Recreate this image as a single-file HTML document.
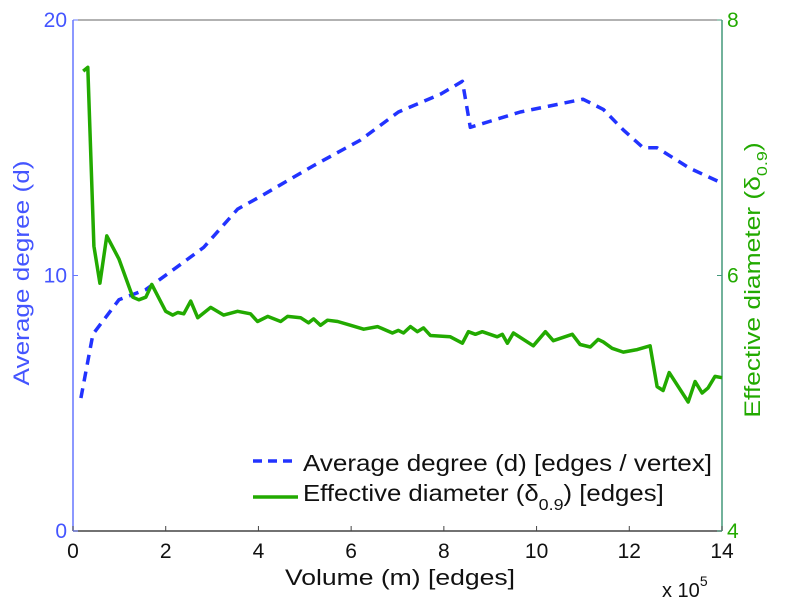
<!DOCTYPE html>
<html><head><meta charset="utf-8">
<style>
body{margin:0;background:#fff;}
svg{display:block;font-family:"Liberation Sans",sans-serif;}
</style></head>
<body>
<svg id="chart" width="785" height="600" viewBox="0 0 785 600">
<rect x="0" y="0" width="785" height="600" fill="#fff"/>
<g id="axes"></g>
<g id="series"></g>
<g id="legend">
  <line x1="253" y1="461" x2="298" y2="461" stroke="#2233ff" stroke-width="3.5" stroke-dasharray="9,6"/>
  <text x="303" y="471" font-size="23" fill="#111" textLength="409" lengthAdjust="spacingAndGlyphs">Average degree (d) [edges / vertex]</text>
  <line x1="253" y1="497" x2="298" y2="497" stroke="#22aa00" stroke-width="3.5"/>
  <text x="303" y="501" font-size="23" fill="#111" transform="translate(303,0) scale(1.12,1) translate(-303,0)">Effective diameter (δ<tspan font-size="16" dy="9">0.9</tspan><tspan dy="-9">) [edges]</tspan></text>
</g>
<text x="400" y="585" font-size="22" text-anchor="middle" fill="#111" textLength="230" lengthAdjust="spacingAndGlyphs">Volume (m) [edges]</text>
<text x="662" y="597" font-size="20" fill="#111">x 10<tspan font-size="14" dy="-11">5</tspan></text>
<text transform="translate(29,273) rotate(-90)" font-size="22" text-anchor="middle" fill="#4455ff" textLength="225" lengthAdjust="spacingAndGlyphs">Average degree (d)</text>
<text transform="translate(760,280) rotate(-90) scale(1.2,1)" font-size="22" text-anchor="middle" fill="#22aa00">Effective diameter (δ<tspan font-size="15" dy="7">0.9</tspan><tspan dy="-7">)</tspan></text>
</svg>
<script>
const xTicks = [0,2,4,6,8,10,12,14];
const leftTicks = [0,10,20];
const rightTicks = [4,6,8];
const degreeM = [0.17,0.43,0.99,1.57,2.22,2.82,3.55,4.05,5.19,6.2,7.02,7.93,8.4,8.57,9.65,11.0,11.44,11.87,12.3,12.6,13.3,13.9];
const degreeD = [5.2,7.7,9.05,9.45,10.3,11.1,12.6,13.1,14.3,15.3,16.4,17.1,17.6,15.8,16.4,16.9,16.5,15.7,15.0,15.0,14.2,13.7];
const diamM = [0.22,0.32,0.45,0.58,0.73,0.99,1.29,1.42,1.57,1.70,2.00,2.15,2.26,2.39,2.54,2.69,2.97,3.25,3.55,3.83,3.98,4.20,4.48,4.63,4.91,5.08,5.19,5.34,5.49,5.71,5.99,6.27,6.57,6.89,7.02,7.13,7.28,7.43,7.56,7.71,8.14,8.40,8.53,8.68,8.83,9.15,9.26,9.37,9.50,9.93,10.19,10.36,10.77,10.94,11.16,11.33,11.44,11.63,11.87,12.17,12.45,12.60,12.73,12.86,13.27,13.42,13.57,13.70,13.85,14.0];
const diamE = [7.60,7.63,6.23,5.94,6.31,6.13,5.83,5.81,5.83,5.93,5.72,5.69,5.71,5.70,5.80,5.67,5.75,5.69,5.72,5.70,5.64,5.68,5.64,5.68,5.67,5.63,5.66,5.61,5.65,5.64,5.61,5.58,5.60,5.55,5.57,5.55,5.60,5.56,5.59,5.53,5.52,5.47,5.56,5.54,5.56,5.52,5.54,5.47,5.55,5.45,5.56,5.49,5.54,5.46,5.44,5.50,5.48,5.43,5.40,5.42,5.45,5.13,5.10,5.24,5.01,5.17,5.08,5.12,5.21,5.20];

const X0=73, X1=722, YT=20, YB=531;
const xs = v => X0 + v/14*(X1-X0);
const yl = v => YB - v/20*(YB-YT);
const yr = v => YB - (v-4)/4*(YB-YT);
const NS='http://www.w3.org/2000/svg';
function mk(tag, attrs, parent){const e=document.createElementNS(NS,tag);for(const k in attrs)e.setAttribute(k,attrs[k]);parent.appendChild(e);return e;}
const axes=document.getElementById('axes'), series=document.getElementById('series');

let e;
e=mk('line',{x1:X0,y1:YT,x2:X1,y2:YT,stroke:'#666','stroke-width':1},axes);


e=mk('line',{x1:X0,y1:YB,x2:X1,y2:YB,stroke:'#444','stroke-width':1.5},axes);


e=mk('line',{x1:X0,y1:YT,x2:X0,y2:YB,stroke:'#6677ff','stroke-width':1.5},axes);


e=mk('line',{x1:X1,y1:YT,x2:X1,y2:YB,stroke:'#44997a','stroke-width':1.5},axes);



xTicks.forEach(t=>{
  const x=xs(t);
  let l=mk('line',{x1:x,y1:YB,x2:x,y2:YB-5,stroke:'#444','stroke-width':1},axes);
  
  
  let tx=mk('text',{x:x,y:YB+27,'font-size':21,'text-anchor':'middle',fill:'#111'},axes);
  tx.textContent=t;
  
  
});
leftTicks.forEach(t=>{
  const y=yl(t);
  let l=mk('line',{x1:X0,y1:y,x2:X0+5,y2:y,stroke:'#6677ff','stroke-width':1},axes);
  
  
  let tx=mk('text',{x:X0-6,y:y+7,'font-size':21,'text-anchor':'end',fill:'#4455ff'},axes);
  tx.textContent=t;
  
  
});
rightTicks.forEach(t=>{
  const y=yr(t);
  let l=mk('line',{x1:X1,y1:y,x2:X1-5,y2:y,stroke:'#44997a','stroke-width':1},axes);
  
  
  let tx=mk('text',{x:X1+5,y:y+7,'font-size':21,'text-anchor':'start',fill:'#22aa00'},axes);
  tx.textContent=t;
  
  
});

const dPts=degreeM.map((m,i)=>xs(m).toFixed(1)+','+yl(degreeD[i]).toFixed(1)).join(' ');
let p1=mk('polyline',{points:dPts,fill:'none',stroke:'#2233ff','stroke-width':3.5,'stroke-dasharray':'10,7','stroke-linejoin':'round'},series);


const ePts=diamM.map((m,i)=>xs(m).toFixed(1)+','+yr(diamE[i]).toFixed(1)).join(' ');
let p2=mk('polyline',{points:ePts,fill:'none',stroke:'#22aa00','stroke-width':3.5,'stroke-linejoin':'round'},series);


</script>
</body></html>
